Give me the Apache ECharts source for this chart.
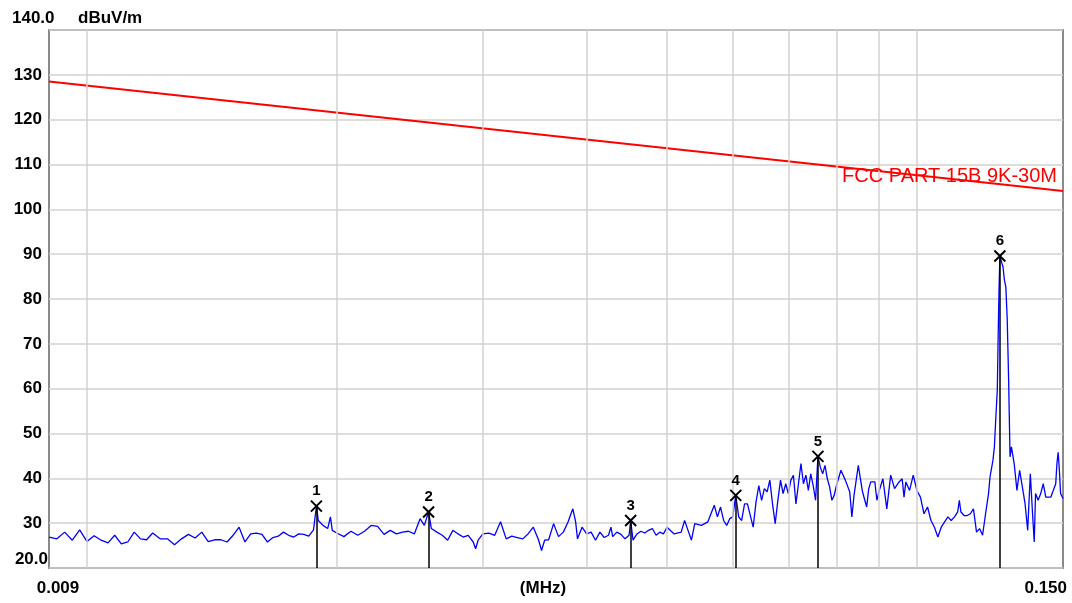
<!DOCTYPE html>
<html><head><meta charset="utf-8">
<script src="https://cdn.jsdelivr.net/npm/echarts@6/dist/echarts.min.js"></script>
<style>html,body{margin:0;padding:0;background:#fff}#c{width:1072px;height:603px}</style>
</head><body><div id="c"></div>
<script>
// ---- data (frequencies in kHz, levels in dBuV/m) ----
const traceFreqKHz = [
9.0,9.2,9.4,9.6,9.8,10.0,10.2,10.4,10.6,10.8,11.0,11.2,11.4,11.6,11.8,12.0,12.25,12.5,12.75,13.0,13.25,13.5,13.75,14.0,14.25,14.5,14.75,15.0,15.25,15.5,15.75,16.0,16.25,16.5,16.75,17.0,17.25,17.5,17.75,18.0,18.25,18.5,18.75,18.9,19.0,19.25,19.5,19.65,19.75,20.0,
20.4,20.8,21.2,21.6,22.0,22.4,22.8,23.2,23.6,24.0,24.4,24.8,25.2,25.5,25.8,26.0,26.4,26.8,27.2,27.6,28.0,28.4,28.8,29.2,29.4,29.6,30.0,
30.5,31.0,31.5,32.0,32.5,33.0,33.5,34.0,34.5,35.0,35.3,35.6,36.0,36.5,37.0,37.5,38.0,38.3,38.5,38.8,39.0,39.5,40.0,40.5,41.0,41.5,42.0,42.5,42.8,43.0,43.5,44.0,44.5,45.0,45.2,45.5,46.0,46.5,47.0,47.5,48.0,48.5,49.0,49.5,50.0,
51,52,52.5,53,53.5,54,55,56,57,57.5,58,58.5,59,59.5,60,60.5,61,61.5,62,62.5,63,63.5,64,64.5,65,65.5,66,66.5,67,67.5,68,68.5,69,69.5,70,70.5,71,71.5,72,72.5,73,73.5,74,74.5,75,75.5,76,76.5,77,77.5,78,78.5,79,79.5,80,
81,82,83,83.5,84,85,86,87,87.5,88,89,89.5,90,91,92,93,94,95,96,96.5,97,98,99,100,101,102,103,104,105,106,107,108,109,110,111,112,112.5,113,114,115,116,117,118,119,120,
121,122,122.5,123,123.5,124,124.5,125,125.3,125.6,125.9,126.3,126.6,127,127.5,128,128.5,129,129.5,130,131,132,133,134,135,136,137,138,138.5,139,140,141,142,143,144,145,146,147,147.5,148,148.5,149,150
];
const traceLevel = [
26.9,26.5,28.0,26.2,28.5,25.9,27.2,26.2,25.6,27.3,25.4,25.8,28.0,26.5,26.3,27.8,26.5,26.5,25.2,26.5,27.5,26.7,28.0,25.9,26.3,26.3,25.8,27.3,29.1,25.8,27.6,27.8,27.5,25.8,26.8,27.1,28.0,27.3,26.9,27.6,27.5,27.1,28.5,33.8,30.6,29.5,28.8,31.4,28.4,27.8,
27.0,28.2,27.3,28.2,29.5,29.3,27.5,28.4,27.6,28.0,28.2,27.6,31.0,29.5,32.5,28.8,28.0,27.3,26.2,28.4,27.6,26.9,27.3,25.8,24.3,26.2,27.6,
27.8,27.3,30.3,26.5,27.1,26.8,26.5,27.6,29.1,26.3,23.9,26.2,26.3,29.9,27.0,28.0,30.3,32.1,33.2,30.3,26.5,29.1,27.6,28.0,26.2,28.0,26.8,27.3,29.1,27.0,28.0,27.5,26.5,27.3,30.6,26.2,27.6,28.2,27.8,28.4,28.8,27.3,28.0,27.6,29.1,
27.6,28.0,30.6,28.4,26.2,29.9,29.5,30.3,34.0,31.4,33.6,30.6,29.5,31.0,31.4,36.2,31.4,30.6,34.3,34.3,31.7,29.1,34.7,38.4,35.1,37.7,37.0,39.6,34.3,29.9,35.1,39.6,36.6,38.8,36.6,39.6,40.7,34.3,38.8,43.3,38.8,40.7,37.3,41.0,38.4,35.1,44.9,42.5,41.0,42.9,39.9,38.1,35.1,36.2,38.4,
41.8,39.6,37.0,31.4,36.2,42.9,37.0,33.6,37.7,39.2,39.2,35.1,37.0,39.9,33.2,40.7,37.7,39.0,39.9,35.8,39.2,37.3,40.7,37.3,35.8,32.1,33.6,30.6,29.1,26.9,29.1,30.3,31.4,30.6,31.4,32.5,35.1,32.5,31.7,31.7,32.1,33.2,28.0,28.8,27.3,
32.1,36.6,40.3,40.3,44.0,47.0,53.7,59.6,71.5,82.0,89.6,88.7,88.0,87.2,84.2,82.7,75.3,61.9,44.8,47.0,43.3,37.3,41.8,38.1,34.4,28.4,41.0,30.6,25.8,36.6,35.1,36.6,38.8,35.8,35.8,35.8,37.3,38.8,43.3,45.8,41.8,36.6,35.5
];
const limitFreqKHz = [9, 150];
const limitLevel = [128.5, 104.1];
const markerFreqKHz = [18.9, 25.8, 45.2, 60.5, 76.0, 125.9];
const markerLevel = [33.8, 32.5, 30.6, 36.2, 44.9, 89.6];
const markerLabels = ['1', '2', '3', '4', '5', '6'];
const xGridMHz = [0.0099, 0.02, 0.03, 0.04, 0.05, 0.06, 0.07, 0.08, 0.09, 0.1];
const xTickLabels = ['0.009', '0.150'];
const xAxisName = '(MHz)';
const yTopLabel = '140.0';
const yBottomLabel = '20.0';
const yUnit = 'dBuV/m';
const limitName = 'FCC PART 15B 9K-30M';

// ---- chart ----
const FONT = '"Liberation Sans", Arial, sans-serif';
const GRIDC = '#d4d1cc';
const chart = echarts.init(document.getElementById('c'), null, {renderer: 'canvas'});
const k2m = v => v / 1000;
const boldText = (x, y, text, align) => ({
  type: 'text', x: x, y: y, silent: true,
  style: {text: text, fill: '#000', font: 'bold 17px ' + FONT, align: align, verticalAlign: 'middle'}
});
const option = {
  animation: false,
  backgroundColor: '#fff',
  grid: {left: 49, top: 30, right: 9, height: 538, show: true, borderColor: '#8a8a8a', borderWidth: 2,
         backgroundColor: '#fff', containLabel: false, outerBoundsMode: 'none'},
  xAxis: {type: 'log', logBase: 10, min: 0.009, max: 0.15,
          axisLine: {show: false}, axisTick: {show: false}, axisLabel: {show: false},
          splitLine: {show: false}, minorSplitLine: {show: false}},
  yAxis: {type: 'value', min: 20, max: 140, interval: 10,
          axisLine: {show: false}, axisTick: {show: false},
          axisLabel: {margin: 7, color: '#000', fontFamily: FONT, fontWeight: 'bold', fontSize: 17,
                      formatter: v => (v === 20 || v === 140) ? '' : String(v)},
          splitLine: {lineStyle: {color: GRIDC, width: 1.5}}},
  series: [
    {type: 'line', name: 'vgrid', data: [[0.009, 20]], showSymbol: false, lineStyle: {opacity: 0}, silent: true, z: 1,
     markLine: {silent: true, symbol: 'none', label: {show: false},
                lineStyle: {color: GRIDC, width: 1.5, type: 'solid'},
                data: xGridMHz.map(v => ({xAxis: v}))}},
    {type: 'line', name: 'limit', data: limitFreqKHz.map((f, i) => [k2m(f), limitLevel[i]]),
     showSymbol: false, lineStyle: {color: '#ff0000', width: 2}, z: 3, silent: true},
    {type: 'line', name: 'trace', data: traceFreqKHz.map((f, i) => [k2m(f), traceLevel[i]]),
     showSymbol: false, lineStyle: {color: '#0000ff', width: 1.3}, z: 4, silent: true},
    {type: 'scatter', name: 'markers', z: 5, silent: true,
     data: markerFreqKHz.map((f, i) => [k2m(f), markerLevel[i]]),
     symbol: 'path://M0,0L10,10M10,0L0,10', symbolSize: [11, 11],
     itemStyle: {color: 'transparent', borderColor: '#000', borderWidth: 2, opacity: 1},
     label: {show: true, position: 'top', distance: 1, color: '#000', fontFamily: FONT, fontWeight: 'bold', fontSize: 15,
             formatter: p => markerLabels[p.dataIndex]},
     markLine: {silent: true, symbol: 'none', label: {show: false},
                lineStyle: {color: '#000', width: 1.5, type: 'solid'},
                data: markerFreqKHz.map((f, i) => [{coord: [k2m(f), 20]}, {coord: [k2m(f), markerLevel[i]]}])}}
  ],
  graphic: [
    boldText(12, 18, yTopLabel, 'left'),
    boldText(78, 18, yUnit, 'left'),
    boldText(48, 559, yBottomLabel, 'right'),
    boldText(58, 588, xTickLabels[0], 'center'),
    boldText(1067, 588, xTickLabels[1], 'right'),
    boldText(543, 588, xAxisName, 'center'),
    {type: 'text', x: 1057, y: 176, silent: true, z: 10,
     style: {text: limitName, fill: '#ff0000', font: '20px ' + FONT, align: 'right', verticalAlign: 'middle'}}
  ]
};
chart.setOption(option);
</script></body></html>
